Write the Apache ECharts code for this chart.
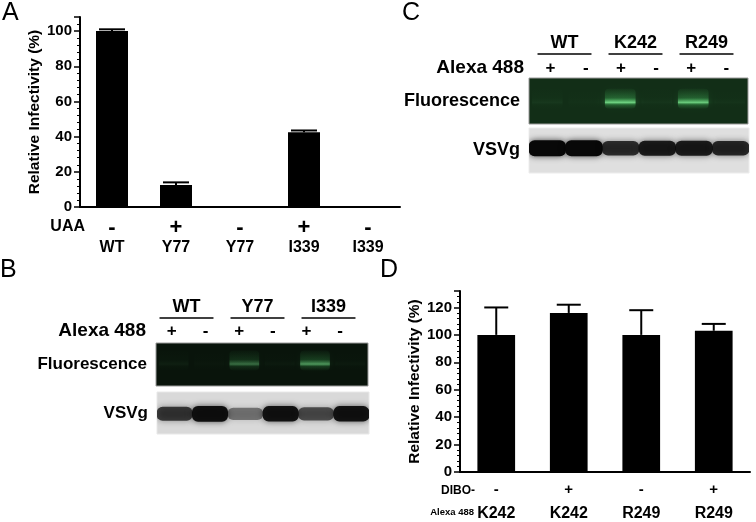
<!DOCTYPE html>
<html>
<head>
<meta charset="utf-8">
<script src="https://cdn.jsdelivr.net/npm/echarts@6/dist/echarts.min.js"></script>
<style>
html, body { margin: 0; padding: 0; background: #fff; }
#chart { width: 756px; height: 522px; }
</style>
</head>
<body>
<div id="chart"></div>
<script>
// panel A: infectivity with / without UAA
const uaaGroups = ['WT', 'Y77', 'Y77', 'I339', 'I339'];
const uaaSigns = ['-', '+', '-', '+', '-'];
const uaaInfectivity = [100, 12.5, 0.5, 42.5, 0];
const uaaErrTop = [101, 14, 0.5, 43.5, 0];

// panel D: infectivity after DIBO-Alexa 488 labelling
const diboGroups = ['K242', 'K242', 'R249', 'R249'];
const diboSigns = ['-', '+', '-', '+'];
const diboInfectivity = [100, 116, 100, 103];
const diboErrTop = [120, 122, 118, 108];

// panels B and C: gel lanes (band strength 0..1)
const laneSigns = ['+', '-', '+', '-', '+', '-'];
const lanes = [0, 1, 2, 3, 4, 5];
const gelGroupsB = ['WT', 'Y77', 'I339'];
const gelGroupsC = ['WT', 'K242', 'R249'];
const fluorB = [0.06, 0.02, 0.45, 0.03, 0.65, 0.03];
const vsvgB = [0.72, 0.95, 0.45, 0.92, 0.62, 0.92];
const fluorC = [0.06, 0.02, 0.95, 0.04, 0.9, 0.03];
const vsvgC = [1, 1, 0.78, 0.88, 0.88, 0.82];

const FONT = 'Liberation Sans';
const chart = echarts.init(document.getElementById('chart'));

function errorBars(capW) {
  return function (params, api) {
    const v = api.value(1), top = api.value(2);
    if (top <= v) return null;
    const p0 = api.coord([api.value(0), v]);
    const p1 = api.coord([api.value(0), top]);
    const st = { stroke: '#000', lineWidth: 2 };
    return {
      type: 'group',
      children: [
        { type: 'line', shape: { x1: p0[0], y1: p0[1], x2: p1[0], y2: p1[1] }, style: st },
        { type: 'line', shape: { x1: p1[0] - capW / 2, y1: p1[1], x2: p1[0] + capW / 2, y2: p1[1] }, style: st }
      ]
    };
  };
}

// group name with a rule under it
function groupHeader(groups) {
  return function (params, api) {
    const cs = params.coordSys;
    const x = api.coord([api.value(0), 0])[0];
    const w = api.size([1, 0])[0];
    const yb = cs.y + cs.height;
    return {
      type: 'group',
      children: [
        { type: 'text', x: x, y: yb - 2, style: { text: groups[params.dataIndex], fontSize: 18, fontWeight: 'bold', fontFamily: FONT, fill: '#000', align: 'center', verticalAlign: 'bottom' } },
        { type: 'line', shape: { x1: x - w * 0.38, y1: yb, x2: x + w * 0.38, y2: yb }, style: { stroke: '#000', lineWidth: 1.5 } }
      ]
    };
  };
}

function fluorBand(rel) {
  return function (params, api) {
    const cs = params.coordSys;
    const v = api.value(2);
    const cx = api.coord([api.value(0), 0])[0];
    const w = api.size([1, 0])[0] * 0.84;
    const yl = cs.y + cs.height * rel;
    return {
      type: 'rect',
      shape: { x: cx - w / 2, y: yl - 14, width: w, height: 20, r: 4 },
      style: {
        fill: new echarts.graphic.LinearGradient(0, 0, 0, 1, [
          { offset: 0, color: 'rgba(60,170,80,' + 0.06 * v + ')' },
          { offset: 0.45, color: 'rgba(70,190,95,' + 0.3 * v + ')' },
          { offset: 0.68, color: 'rgba(130,240,150,' + 0.85 * v + ')' },
          { offset: 0.8, color: 'rgba(70,190,95,' + 0.3 * v + ')' },
          { offset: 1, color: 'rgba(60,170,80,' + 0.05 * v + ')' }
        ]),
        shadowBlur: 8,
        shadowColor: 'rgba(80,220,110,' + 0.35 * v + ')'
      }
    };
  };
}

function blotBand(rel) {
  return function (params, api) {
    const cs = params.coordSys;
    const v = api.value(2);
    const cx = api.coord([api.value(0), 0])[0];
    const w = api.size([1, 0])[0] * 1.02;
    const h = 9 + 7 * v;
    const yc = cs.y + cs.height * rel;
    return {
      type: 'rect',
      shape: { x: cx - w / 2, y: yc - h / 2, width: w, height: h, r: 6 },
      style: { fill: 'rgba(8,8,8,' + v + ')', shadowBlur: 6, shadowColor: 'rgba(0,0,0,' + 0.7 * v + ')' }
    };
  };
}

const hidden = { show: false };
const rowLabel = { fontSize: 17, fontWeight: 'bold', fontFamily: FONT, color: '#000', margin: 9 };

function valueAxis(grid, max) {
  return {
    type: 'value', gridIndex: grid, min: 0, max: max, interval: 20,
    name: 'Relative Infectivity (%)', nameLocation: 'middle', nameGap: 36,
    nameTextStyle: { fontSize: 15.5, fontWeight: 'bold', fontFamily: FONT, color: '#000' },
    axisLine: { show: true, lineStyle: { color: '#000', width: 2 } },
    axisTick: { show: true, length: 6, lineStyle: { color: '#000', width: 1.5 } },
    minorTick: { show: true, splitNumber: 5, length: 3, lineStyle: { color: '#000', width: 1 } },
    axisLabel: { margin: 8, showMaxLabel: false, fontSize: 15, fontWeight: 'bold', fontFamily: FONT, color: '#000' },
    splitLine: hidden
  };
}

function catAxis(grid, groups, signs, signSize, signLH, nameLH, margin) {
  return {
    type: 'category', gridIndex: grid, data: groups,
    axisLine: { lineStyle: { color: '#000', width: 2 } },
    axisTick: { alignWithLabel: true, length: 5, lineStyle: { color: '#000', width: 1.5 } },
    axisLabel: {
      margin: margin,
      formatter: (v, i) => '{s|' + signs[i] + '}\n{n|' + v + '}',
      rich: {
        s: { fontSize: signSize, fontWeight: 'bold', fontFamily: FONT, color: '#000', lineHeight: signLH },
        n: { fontSize: 16, fontWeight: 'bold', fontFamily: FONT, color: '#000', lineHeight: nameLH }
      }
    }
  };
}

function laneAxis(grid) {
  return { type: 'category', gridIndex: grid, data: lanes, show: false };
}
function signAxis(grid) {
  return {
    type: 'category', gridIndex: grid, data: laneSigns,
    axisLine: hidden, axisTick: hidden,
    axisLabel: { fontSize: 17, fontWeight: 'bold', fontFamily: FONT, color: '#000', margin: -1, verticalAlign: 'middle' }
  };
}
function rowAxis(grid, name, size) {
  return { type: 'category', gridIndex: grid, data: [name], axisLine: hidden, axisTick: hidden,
    axisLabel: Object.assign({}, rowLabel, { fontSize: size }) };
}

const letter = { fontSize: 25, fontWeight: 'normal', fontFamily: FONT, color: '#000' };

const option = {
  animation: false,
  backgroundColor: '#fff',
  textStyle: { fontFamily: FONT },
  title: [
    { text: 'A', left: 2, top: 1, padding: 0, textStyle: letter },
    { text: 'B', left: 0, top: 258, padding: 0, textStyle: letter },
    { text: 'C', left: 402, top: 1, padding: 0, textStyle: letter },
    { text: 'D', left: 380, top: 258, padding: 0, textStyle: letter }
  ],
  graphic: [
    { type: 'text', x: 85, y: 227, style: { text: 'UAA', fontSize: 16, fontWeight: 'bold', fontFamily: FONT, fill: '#000', align: 'right', verticalAlign: 'middle' } },
    { type: 'text', x: 475, y: 491, style: { text: 'DIBO-', fontSize: 12, fontWeight: 'bold', fontFamily: FONT, fill: '#000', align: 'right', verticalAlign: 'middle' } },
    { type: 'text', x: 474, y: 512, style: { text: 'Alexa 488', fontSize: 9.5, fontWeight: 'bold', fontFamily: FONT, fill: '#000', align: 'right', verticalAlign: 'middle' } }
  ],
  grid: [
    { left: 80, top: 17, width: 320, height: 190 },
    { left: 460, top: 291, width: 290, height: 186 },
    { left: 151, top: 300, width: 213, height: 18 },
    { left: 155, top: 330, width: 202, height: 2 },
    { left: 156, top: 343, width: 212, height: 43, show: true, backgroundColor: '#09140b', borderColor: '#9a9a9a', borderWidth: 1 },
    { left: 157, top: 392, width: 212, height: 42, show: true, backgroundColor: '#d9d9d9', borderColor: '#e8e8e8', borderWidth: 1 },
    { left: 529, top: 37, width: 213, height: 17 },
    { left: 533, top: 67, width: 211, height: 2 },
    { left: 529, top: 78, width: 219, height: 46, show: true, backgroundColor: '#122e17', borderColor: '#9a9a9a', borderWidth: 1 },
    { left: 529, top: 128, width: 220, height: 45, show: true, backgroundColor: '#dfdfdf', borderColor: '#ececec', borderWidth: 1 }
  ],
  xAxis: [
    catAxis(0, uaaGroups, uaaSigns, 22, 20, 20, 11),
    catAxis(1, diboGroups, diboSigns, 15, 16, 32, 10),
    { type: 'category', gridIndex: 2, data: gelGroupsB, show: false },
    signAxis(3),
    laneAxis(4),
    laneAxis(5),
    { type: 'category', gridIndex: 6, data: gelGroupsC, show: false },
    signAxis(7),
    laneAxis(8),
    laneAxis(9)
  ],
  yAxis: [
    valueAxis(0, 108),
    valueAxis(1, 132),
    { type: 'value', gridIndex: 2, min: 0, max: 1, show: false },
    rowAxis(3, 'Alexa 488', 19),
    rowAxis(4, 'Fluorescence', 17),
    rowAxis(5, 'VSVg', 17),
    { type: 'value', gridIndex: 6, min: 0, max: 1, show: false },
    rowAxis(7, 'Alexa 488', 19),
    rowAxis(8, 'Fluorescence', 18),
    rowAxis(9, 'VSVg', 18)
  ],
  series: [
    { type: 'bar', xAxisIndex: 0, yAxisIndex: 0, data: uaaInfectivity, barWidth: '50%', itemStyle: { color: '#000' } },
    { type: 'custom', xAxisIndex: 0, yAxisIndex: 0, renderItem: errorBars(26),
      data: uaaErrTop.map((e, i) => [i, uaaInfectivity[i], e]) },
    { type: 'bar', xAxisIndex: 1, yAxisIndex: 1, data: diboInfectivity, barWidth: '52%', itemStyle: { color: '#000' } },
    { type: 'custom', xAxisIndex: 1, yAxisIndex: 1, renderItem: errorBars(24),
      data: diboErrTop.map((e, i) => [i, diboInfectivity[i], e]) },

    { type: 'custom', xAxisIndex: 2, yAxisIndex: 2, renderItem: groupHeader(gelGroupsB),
      data: gelGroupsB.map((g, i) => [i, 0]) },
    { type: 'custom', xAxisIndex: 4, yAxisIndex: 4, clip: true, renderItem: fluorBand(0.5),
      encode: { x: 0, y: 1 }, data: fluorB.map((v, i) => [i, 0, v]) },
    { type: 'custom', xAxisIndex: 5, yAxisIndex: 5, clip: true, renderItem: blotBand(0.52),
      encode: { x: 0, y: 1 }, data: vsvgB.map((v, i) => [i, 0, v]) },

    { type: 'custom', xAxisIndex: 6, yAxisIndex: 6, renderItem: groupHeader(gelGroupsC),
      data: gelGroupsC.map((g, i) => [i, 0]) },
    { type: 'custom', xAxisIndex: 8, yAxisIndex: 8, clip: true, renderItem: fluorBand(0.54),
      encode: { x: 0, y: 1 }, data: fluorC.map((v, i) => [i, 0, v]) },
    { type: 'custom', xAxisIndex: 9, yAxisIndex: 9, clip: true, renderItem: blotBand(0.45),
      encode: { x: 0, y: 1 }, data: vsvgC.map((v, i) => [i, 0, v]) }
  ]
};

chart.setOption(option);
</script>
</body>
</html>
